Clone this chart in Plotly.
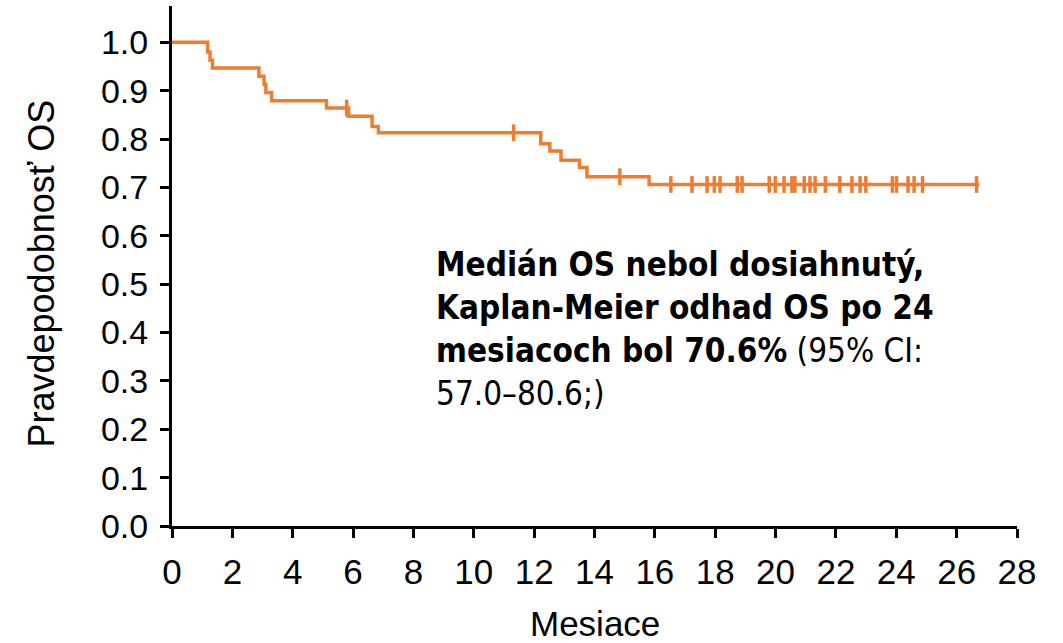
import plotly.graph_objects as go

# Kaplan-Meier step curve (event times in months, survival probability)
event_times = [0, 1.18, 1.26, 1.34, 2.88, 3.05, 3.11, 3.30, 5.12, 5.85, 6.63, 6.84,
               12.22, 12.52, 12.89, 13.50, 13.75, 15.81, 26.75]
survival = [1.0, 0.980, 0.963, 0.947, 0.930, 0.913, 0.896, 0.879, 0.864, 0.847, 0.826,
            0.813, 0.790, 0.775, 0.756, 0.741, 0.722, 0.706, 0.706]

# Censored observations
censor_times = [5.79, 11.32, 14.84, 16.53, 17.23, 17.73, 17.97, 18.16, 18.73, 18.89,
                19.79, 19.99, 20.28, 20.54, 20.64, 20.95, 21.14, 21.31, 21.65, 22.13,
                22.53, 22.80, 22.99, 23.87, 24.01, 24.39, 24.59, 24.87, 26.66]
censor_surv = [0.864, 0.813, 0.722] + [0.706] * 26

x_ticks = list(range(0, 29, 2))
y_ticks = [round(i / 10, 1) for i in range(0, 11)]
y_tick_labels = [f"{v:.1f}" for v in y_ticks]

ORANGE = "#ED7D31"
FONT = "Liberation Sans, Arial, sans-serif"

fig = go.Figure()
fig.add_trace(go.Scatter(
    x=event_times, y=survival, mode="lines",
    line=dict(color=ORANGE, width=3.5, shape="hv"),
    showlegend=False, hoverinfo="skip"))
fig.add_trace(go.Scatter(
    x=censor_times, y=censor_surv, mode="markers",
    marker=dict(symbol="line-ns", size=12, line=dict(color=ORANGE, width=3.5)),
    showlegend=False, hoverinfo="skip"))

fig.update_layout(
    width=1063, height=643,
    margin=dict(l=172, r=46, t=6, b=117),
    paper_bgcolor="white", plot_bgcolor="white",
    font=dict(family=FONT, color="black"),
    xaxis=dict(range=[0, 28], tickvals=x_ticks, ticks="outside", ticklen=9,
               tickwidth=2.5, tickcolor="black", showline=True, linecolor="black",
               linewidth=3, showgrid=False, zeroline=False,
               tickfont=dict(size=35, family=FONT, color="black"),
               ticklabelstandoff=4),
    yaxis=dict(range=[0, 1.075], tickvals=y_ticks, ticktext=y_tick_labels,
               ticks="outside", ticklen=9, tickwidth=2.5, tickcolor="black",
               showline=True, linecolor="black", linewidth=3, showgrid=False,
               zeroline=False, tickfont=dict(size=34, family=FONT, color="black"),
               ticklabelstandoff=5),
)

fig.add_annotation(
    text="Pravdepodobnosť OS", textangle=-90,
    xref="paper", yref="paper", x=(41 - 172) / 845, y=(526 - 273.5) / 520,
    xanchor="center", yanchor="middle", showarrow=False,
    font=dict(size=36, family=FONT, color="black"))

fig.add_annotation(
    text="Mesiace",
    xref="paper", yref="paper", x=0.5, y=-(602 - 526) / 520,
    xanchor="center", yanchor="top", showarrow=False,
    font=dict(size=35, family=FONT, color="black"))

fig.add_annotation(
    text=("<b>Medián OS nebol dosiahnutý,<br>Kaplan-Meier odhad OS po 24<br>"
          "mesiacoch bol 70.6%</b> (95% CI:<br>57.0–80.6;)"),
    xref="x", yref="y", x=8.68, y=0.585,
    xanchor="left", yanchor="top", align="left", showarrow=False,
    font=dict(size=33, family="DejaVu Sans Condensed, DejaVu Sans, sans-serif",
              color="black"))

fig.write_html("out.html")
